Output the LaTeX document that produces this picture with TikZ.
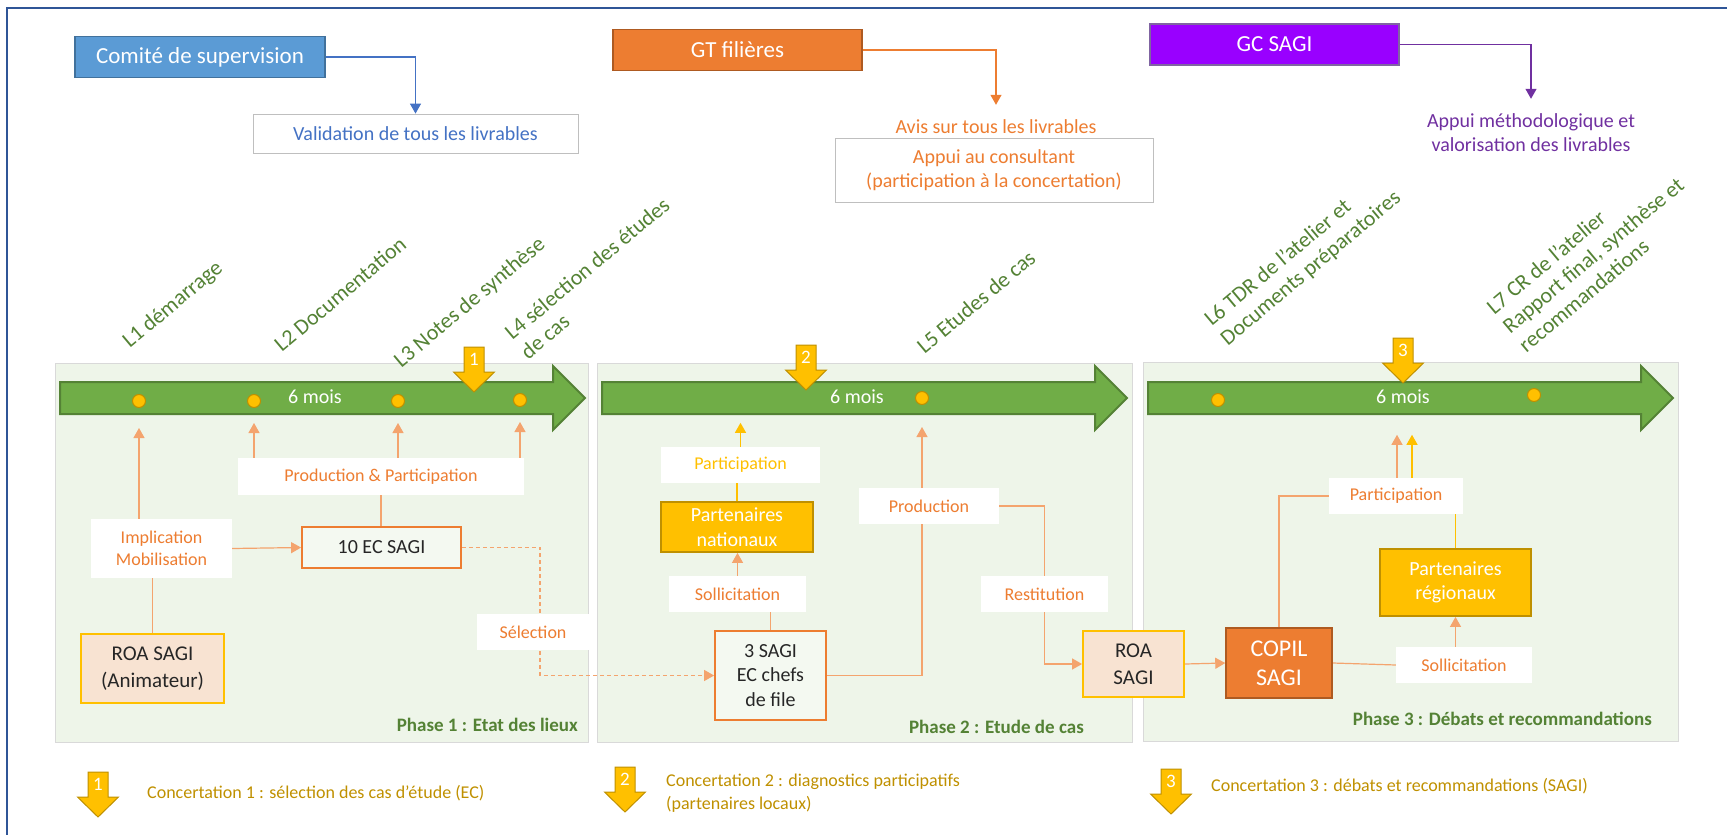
\documentclass[tikz,border=0pt]{standalone}
\usepackage{fontspec}
\setmainfont{Carlito}
\usepackage{xcolor}
\usetikzlibrary{arrows.meta}
\usetikzlibrary{positioning}
\definecolor{orangeSAGI}{HTML}{ED7D31}
\definecolor{orangeDark}{HTML}{AE5A21}
\definecolor{orangeLine}{HTML}{F4A46E}
\definecolor{goldSAGI}{HTML}{FFC000}
\definecolor{goldDark}{HTML}{BF9000}
\definecolor{greenSAGI}{HTML}{70AD47}
\definecolor{greenDark}{HTML}{548235}
\definecolor{phaseFill}{HTML}{EEF5E9}
\definecolor{phaseLine}{HTML}{D9D9D9}
\definecolor{ecFill}{HTML}{F4F9F1}
\definecolor{peach}{HTML}{F8E3D2}
\definecolor{blueSAGI}{HTML}{5B9BD5}
\definecolor{blueDark}{HTML}{41719C}
\definecolor{blueText}{HTML}{4472C4}
\definecolor{violetSAGI}{HTML}{9900FF}
\definecolor{violetDark}{HTML}{7030A0}
\definecolor{violetLine}{HTML}{8064A2}
\definecolor{greyLine}{HTML}{BFBFBF}
\definecolor{frameBlue}{HTML}{2F5597}
\definecolor{darkText}{HTML}{262626}
\pgfdeclarelayer{bg}
\pgfdeclarelayer{lines}
\pgfsetlayers{bg,lines,main}
\tikzset{>={Triangle[length=10pt,width=11pt]}}

\begin{document}
\begin{tikzpicture}[x=1pt,y=-1pt,
	fs/.style 2 args={font=\fontsize{#1}{#2}\selectfont},
	hdr/.style={fill=#1,line width=1.5,text=white,inner sep=0,minimum height=41,fs={23}{28}},
	wbox/.style={fill=white,inner sep=0,minimum height=36,text=orangeSAGI,fs={18}{22},align=center},
	gbox/.style={draw=greyLine,fill=white,line width=0.8,inner sep=0,fs={20}{24},align=center},
	ecbox/.style={draw=orangeSAGI,fill=ecFill,line width=1.8,inner sep=0,text=darkText,fs={20}{24.5},align=center},
	roabox/.style={draw=goldSAGI,fill=peach,line width=1.8,inner sep=0,text=darkText,fs={21}{27},align=center},
	partbox/.style={draw=goldDark,fill=goldSAGI,line width=1.8,inner sep=0,text=white,fs={20}{24.5},align=center},
	lab/.style={text=greenDark,rotate=40,inner sep=0,fs={22}{25},align=left},
	phase/.style={draw=phaseLine,fill=phaseFill,line width=1,inner sep=0},
	phlab/.style={text=greenDark,inner sep=0,font=\fontsize{19}{23}\selectfont\bfseries,anchor=east},
	dot/.style={circle,draw=goldDark,fill=goldSAGI,line width=1,minimum size=13,inner sep=0},
	timeline/.style={fill=greenSAGI,draw=greenDark,line width=2},
	conc/.style={fill=goldSAGI,draw=goldDark,line width=1},
	conn/.style={draw=orangeLine,line width=1.2},
	yconn/.style={draw=goldSAGI,line width=1.2},
	leg/.style={text=goldDark,inner sep=0,fs={18}{23},anchor=west,align=left}]

	\useasboundingbox (0,0) rectangle (1727,835);
	\draw[frameBlue,line width=2.2] (7,835) -- (7,8) -- (1727,8);

	\begin{pgfonlayer}{bg}
	\node[phase,minimum width=533,minimum height=379] (ph1) at (321.5,552.5) {};
	\node[phase,minimum width=535,minimum height=379] (ph2) at (864.5,552.5) {};
	\node[phase,minimum width=535,minimum height=379] (ph3) at (1410.5,551.5) {};
	\end{pgfonlayer}

	\node[hdr=blueSAGI,draw=blueDark,minimum width=250] (comite) at (200,57) {Comité de supervision};
	\node[gbox,text=blueText,minimum width=325,minimum height=39] (valid) at (415.5,133.5) {Validation de tous les livrables};
	\node[hdr=orangeSAGI,draw=orangeDark,minimum width=249] (gt) at (737.5,50) {GT filières};
	\node[inner sep=0,text=orangeSAGI,fs={20}{24},minimum height=44] (avis) at (996,127) {Avis sur tous les livrables};
	\node[gbox,text=orangeSAGI,minimum width=318,minimum height=64] (appui) at (994,170) {Appui au consultant\\(participation à la concertation)};
	\node[hdr=violetSAGI,draw=violetLine,minimum width=249] (gc) at (1274.5,44.5) {GC SAGI};
	\node[inner sep=0,text=violetDark,fs={20}{24},align=center,minimum height=68] (methodo) at (1531,133) {Appui méthodologique et\\valorisation des livrables};

	\node[lab] (l1) at (173,305) {L1 démarrage};
	\node[lab] (l2) at (340,294) {L2 Documentation};
	\node[lab] (l3) at (470,303) {L3 Notes de synthèse};
	\node[lab] (l4) at (595,278) {L4 sélection des études\\de cas};
	\node[lab] (l5) at (976,302) {L5 Etudes de cas};
	\node[lab] (l6) at (1303,259) {L6 TDR de l’atelier et\\Documents préparatoires};
	\node[lab] (l7) at (1593,255) {L7 CR de l’atelier\\Rapport final, synthèse et\\recommandations};

	\foreach \x in {60,602,1148}
		\draw[timeline] (\x,382) -- ++(493,0) -- ++(0,-16) -- ++(32,32) -- ++(-32,32) -- ++(0,-16) -- ++(-493,0) -- cycle;
	\node[text=white,fs={20}{24}] (m1) at (315,397) {6 mois};
	\node[text=white,fs={20}{24}] (m2) at (857,397) {6 mois};
	\node[text=white,fs={20}{24}] (m3) at (1403,397) {6 mois};
	\foreach \x/\y [count=\i] in {139/401,254/401,398/401,520/400,922/398,1218/400,1534/395}
		\node[dot] (d\i) at (\x,\y) {};
	\foreach \x/\y/\n [count=\i] in {474/347/1,806/345/2,1403/338/3,98/772/1,625/767/2,1171/769/3} {
		\draw[conc] ({\x-10},\y) -- ({\x+10},\y) -- ({\x+10},{\y+25}) -- ({\x+20.5},{\y+25}) -- (\x,{\y+45}) -- ({\x-20.5},{\y+25}) -- ({\x-10},{\y+25}) -- cycle;
		\node[text=white,fs={19}{22}] (c\i) at (\x,{\y+12}) {\n};
	}

	\node[wbox,minimum width=286,minimum height=37] (prodpart) at (381,476.5) {Production \& Participation};
	\node[wbox,minimum width=141,minimum height=59] (impl) at (161.5,548.5) {Implication\\Mobilisation};
	\node[roabox,minimum width=143,minimum height=69] (roa1) at (152.5,668.5) {ROA SAGI\\(Animateur)};
	\node[ecbox,minimum width=159,minimum height=41] (ec10) at (381.5,547.5) {10 EC SAGI};
	\node[wbox,minimum width=112] (sel) at (533,632) {Sélection};

	\node[wbox,text=goldSAGI,minimum width=159] (part2) at (740.5,465) {Participation};
	\node[partbox,minimum width=152,minimum height=50] (natl) at (737,527) {Partenaires\\nationaux};
	\node[wbox,minimum width=137] (soll2) at (737.5,594) {Sollicitation};
	\node[ecbox,minimum width=111,minimum height=89] (sag3) at (770.5,675.5) {3 SAGI\\EC chefs\\de file};
	\node[wbox,minimum width=140] (prod2) at (929,506) {Production};
	\node[wbox,minimum width=127] (rest) at (1044.5,594) {Restitution};
	\node[roabox,minimum width=101,minimum height=66] (roa2) at (1133.5,664) {ROA\\SAGI};

	\node[hdr=orangeSAGI,draw=orangeDark,minimum width=106,minimum height=70,fs={24}{29},align=center] (copil) at (1279,663) {COPIL\\SAGI};
	\node[wbox,minimum width=136] (soll3) at (1464,665) {Sollicitation};
	\node[partbox,minimum width=151,minimum height=67] (reg) at (1455.5,582.5) {Partenaires\\régionaux};
	\node[wbox,minimum width=134] (part3) at (1396,496) {Participation};

	\node[phlab] (pl1) at (578,725) {Phase 1 : Etat des lieux};
	\node[phlab] (pl2) at (1084,727) {Phase 2 : Etude de cas};
	\node[phlab] (pl3) at (1652,719) {Phase 3 : Débats et recommandations};

	\node[leg] (leg1) at (147,793) {Concertation 1 : sélection des cas d’étude (EC)};
	\node[leg] (leg2) at (666,793.5) {Concertation 2 : diagnostics participatifs\\(partenaires locaux)};
	\node[leg] (leg3) at (1211,786) {Concertation 3 : débats et recommandations (SAGI)};

	\begin{pgfonlayer}{lines}
	\draw[->,blueText,line width=1.2] (comite.east) -| (valid.north);
	\draw[->,orangeSAGI,line width=1.2] (gt.east) -| (avis.north);
	\draw[->,violetDark,line width=1.2] (gc.east) -| (methodo.north);
	\draw[conn,->,shorten >=20] (d1 |- impl.north) -- (d1);
	\foreach \i in {2,3,4}
		\draw[conn,->,shorten >=15] (d\i |- prodpart.north) -- (d\i);
	\draw[conn] (prodpart.south) -- (prodpart.south |- ec10.north);
	\draw[conn] (roa1.north |- impl.south) -- (roa1.north);
	\draw[conn,->] (impl.east) -- (ec10.west);
	\draw[conn,->,dash pattern=on 4pt off 3pt] (ec10.east) -| ([xshift=7]sel.center) |- (sag3.west);
	\draw[yconn,->] (part2.north) -- ++(0,-24);
	\draw[yconn] (natl.north) -- (natl.north |- part2.south);
	\draw[conn,->] (soll2.north) -- (soll2.north |- natl.south);
	\draw[conn] (sag3.north) -- (sag3.north |- soll2.south);
	\draw[conn,->,shorten >=22] (sag3.east) -| (d5);
	\draw[conn,->] (prod2.east) -| (rest.center) |- (roa2.west);
	\draw[conn,->] (roa2.east) -- (copil.west);
	\draw[conn] (copil.east) -- (soll3.west);
	\draw[conn,->] (reg.south |- soll3.north) -- (reg.south);
	\draw[yconn] (reg.north) -- (reg.north |- part3.south);
	\draw[conn] (copil.north) |- (part3.west);
	\draw[conn,->] ([xshift=1]part3.north) -- ++(0,-43);
	\draw[yconn,->] ([xshift=16]part3.north) -- ++(0,-43);
	\end{pgfonlayer}
\end{tikzpicture}
\end{document}
